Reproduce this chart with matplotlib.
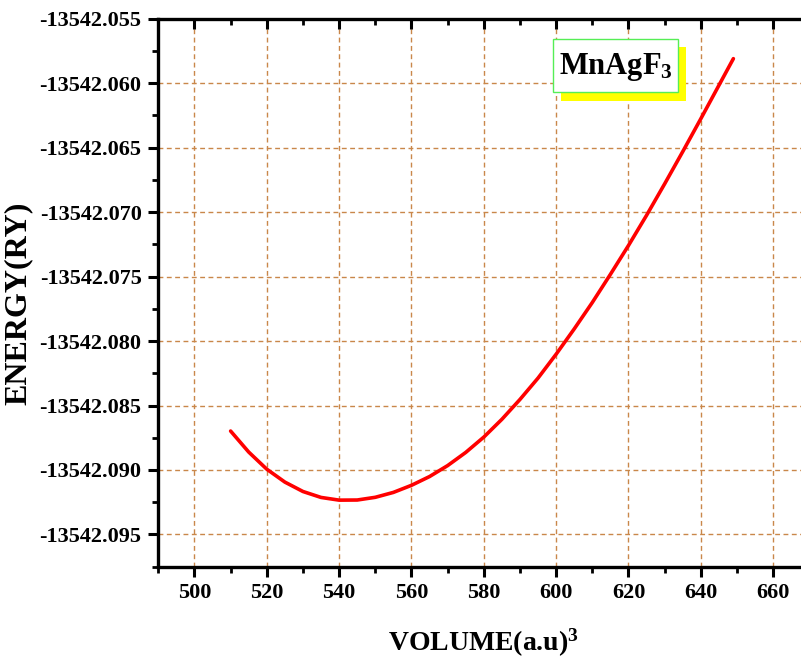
"""
Total energy versus unit-cell volume for MnAgF3 (E-V curve).

Output:
    out.png
"""

import matplotlib.pyplot as plt
import matplotlib.ticker as mticker
from matplotlib.patches import Rectangle


# ---------------------------------------------------------------------
# Plot style
# ---------------------------------------------------------------------

plt.rcParams.update({
    "font.family": ["Liberation Serif", "DejaVu Serif"],
    "font.weight": "bold",
    "mathtext.fontset": "custom",
    "mathtext.rm": "Liberation Serif:bold",
    "mathtext.it": "Liberation Serif:bold",
    "mathtext.bf": "Liberation Serif:bold",
    "mathtext.default": "rm",
})


# ---------------------------------------------------------------------
# Data
# ---------------------------------------------------------------------

volume = [510, 515, 520, 525, 530, 535, 540, 545, 550, 555,
          560, 565, 570, 575, 580, 585, 590, 595, 600, 605,
          610, 615, 620, 625, 630, 635, 640, 645, 649]

energy = [-13542.08698, -13542.08861, -13542.08994, -13542.09094,
          -13542.09167, -13542.09213, -13542.09234, -13542.09233,
          -13542.09212, -13542.09174, -13542.09119, -13542.09051,
          -13542.08966, -13542.08864, -13542.08745, -13542.08607,
          -13542.08453, -13542.08287, -13542.08102, -13542.07906,
          -13542.07701, -13542.07483, -13542.07259, -13542.07025,
          -13542.06781, -13542.06531, -13542.06276, -13542.06017,
          -13542.05810]

compound = r"MnAgF$_3$"
x_label = r"VOLUME(a.u)$^3$"
y_label = "ENERGY(RY)"

x_limits = (490, 670)
y_limits = (-13542.0975, -13542.055)


# ---------------------------------------------------------------------
# Figure
# ---------------------------------------------------------------------

fig = plt.figure(figsize=(8.01, 6.60), dpi=100)
ax = fig.add_axes([0.1976, 0.1414, 0.8128, 0.8303])

grid_color = "#C9874A"

ax.plot(volume, energy, color="red", linewidth=2.6, zorder=3,
        solid_capstyle="round", solid_joinstyle="round")

ax.set_xlim(*x_limits)
ax.set_ylim(*y_limits)

ax.xaxis.set_major_locator(mticker.MultipleLocator(20))
ax.xaxis.set_minor_locator(mticker.AutoMinorLocator(2))
ax.yaxis.set_major_locator(mticker.MultipleLocator(0.005))
ax.yaxis.set_minor_locator(mticker.AutoMinorLocator(2))
ax.yaxis.set_major_formatter(mticker.FormatStrFormatter("%.3f"))

ax.grid(which="major", color=grid_color, linestyle=(0, (3.5, 2.5)),
        linewidth=1.0, zorder=0)

for spine in ax.spines.values():
    spine.set_linewidth(2.4)

ax.tick_params(axis="both", which="major", length=7, width=2.2,
               labelsize=16, pad=5)
ax.tick_params(axis="both", which="minor", length=4, width=2.0)
ax.tick_params(axis="both", which="both", direction="out")
ax.tick_params(axis="x", which="both", top=True, labeltop=False)
ax.tick_params(axis="y", which="both", right=True, labelright=False)

# ticks on the top and right spines point inwards
for tick in ax.xaxis.get_major_ticks() + ax.xaxis.get_minor_ticks():
    tick.tick2line.set_marker(3)
for tick in ax.yaxis.get_major_ticks() + ax.yaxis.get_minor_ticks():
    tick.tick2line.set_marker(1)

for label in ax.get_xticklabels() + ax.get_yticklabels():
    label.set_fontweight("bold")

ax.set_xlabel(x_label, fontsize=20, fontweight="bold")
ax.set_ylabel(y_label, fontsize=23, fontweight="bold")
ax.xaxis.set_label_coords(0.5, -0.11)
ax.yaxis.set_label_coords(-0.1925, 0.48)

# compound label box with a yellow drop shadow
ax.add_patch(Rectangle((0.6188, 0.8504), 0.1918, 0.0985,
                       transform=ax.transAxes, facecolor="#FFFF00",
                       edgecolor="none", zorder=4, clip_on=False))
ax.add_patch(Rectangle((0.6068, 0.8657), 0.1920, 0.0967,
                       transform=ax.transAxes, facecolor="white",
                       edgecolor="#55EE55", linewidth=1.0, zorder=5,
                       clip_on=False))
ax.text(0.7027, 0.8985, compound, transform=ax.transAxes,
        ha="center", va="baseline", fontsize=22, fontweight="bold",
        zorder=6)

fig.savefig("out.png", dpi=100)
